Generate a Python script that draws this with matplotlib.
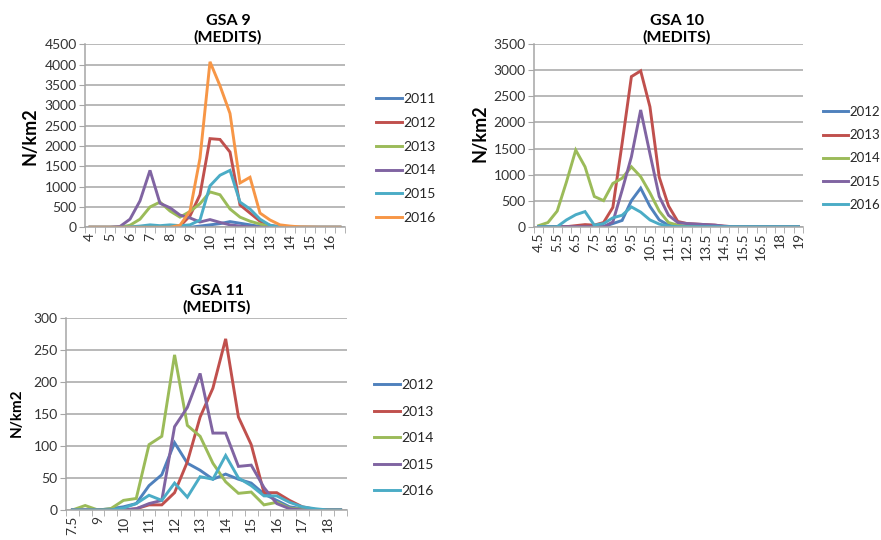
import matplotlib.pyplot as plt

plt.rcParams['font.family'] = ['Lato', 'DejaVu Sans']

# Excel 2010 palette
COLORS = {'2011': '#4F81BD', '2012': '#C0504D', '2013': '#9BBB59',
          '2014': '#8064A2', '2015': '#4BACC6', '2016': '#F79646'}
COLORS_B = {'2012': '#4F81BD', '2013': '#C0504D', '2014': '#9BBB59',
            '2015': '#8064A2', '2016': '#4BACC6'}

# ---- GSA 9 (length classes, cm) ----
gsa9_len = [4, 4.5, 5, 5.5, 6, 6.5, 7, 7.5, 8, 8.5, 9, 9.5, 10, 10.5, 11, 11.5,
            12, 12.5, 13, 13.5, 14, 14.5, 15, 15.5, 16, 16.5]
gsa9_2011 = [0, 0, 0, 0, 0, 0, 0, 0, 0, 0, 0, 30, 60, 90, 140, 100, 60, 20, 0, 0, 0, 0, 0, 0, 0, 0]
gsa9_2012 = [0, 0, 0, 0, 0, 0, 0, 0, 0, 30, 280, 800, 2180, 2160, 1850, 550, 350, 150, 50, 10, 0, 0, 0, 0, 0, 0]
gsa9_2013 = [0, 0, 0, 0, 50, 200, 500, 620, 400, 250, 390, 580, 870, 800, 450, 250, 150, 80, 20, 0, 0, 0, 0, 0, 0, 0]
gsa9_2014 = [0, 0, 0, 20, 200, 650, 1400, 590, 480, 300, 230, 130, 190, 120, 60, 30, 10, 0, 0, 0, 0, 0, 0, 0, 0, 0]
gsa9_2015 = [0, 0, 0, 0, 10, 30, 60, 40, 60, 40, 60, 180, 1020, 1280, 1400, 620, 450, 200, 50, 10, 0, 0, 0, 0, 0, 0]
gsa9_2016 = [0, 0, 0, 0, 0, 0, 0, 0, 0, 50, 400, 1700, 4070, 3480, 2800, 1090, 1230, 350, 180, 60, 30, 10, 5, 0, 0, 0]

# ---- GSA 10 ----
gsa10_len = [4.5, 5, 5.5, 6, 6.5, 7, 7.5, 8, 8.5, 9, 9.5, 10, 10.5, 11, 11.5, 12,
             12.5, 13, 13.5, 14, 14.5, 15, 15.5, 16, 16.5, 17, 18, 18.5, 19]
gsa10_2012 = [0, 0, 0, 0, 0, 0, 0, 0, 60, 120, 500, 740, 390, 130, 30, 0, 0, 0, 0, 0, 0, 0, 0, 0, 0, 0, 0, 0, 0]
gsa10_2013 = [0, 0, 0, 0, 20, 40, 30, 80, 370, 1600, 2880, 2990, 2300, 950, 400, 100, 60, 50, 40, 30, 10, 0, 0, 0, 0, 0, 0, 0, 0]
gsa10_2014 = [20, 80, 300, 860, 1470, 1150, 580, 500, 830, 930, 1150, 960, 650, 300, 80, 30, 10, 0, 0, 0, 0, 0, 0, 0, 0, 0, 0, 0, 0]
gsa10_2015 = [0, 0, 0, 0, 0, 0, 0, 0, 90, 700, 1340, 2240, 1400, 580, 220, 80, 60, 50, 40, 30, 10, 0, 0, 0, 0, 0, 0, 0, 0]
gsa10_2016 = [0, 0, 0, 130, 230, 290, 30, 60, 170, 220, 380, 280, 130, 50, 10, 0, 0, 0, 0, 0, 0, 0, 0, 0, 0, 0, 0, 0, 0]

# ---- GSA 11 ----
gsa11_len = [7.5, 8, 9, 9.5, 10, 10.5, 11, 11.5, 12, 12.5, 13, 13.5, 14, 14.5,
             15, 15.5, 16, 16.5, 17, 17.5, 18, 18.5]
gsa11_2012 = [0, 0, 0, 2, 5, 10, 38, 55, 105, 73, 62, 48, 56, 48, 42, 25, 15, 5, 2, 0, 0, 0]
gsa11_2013 = [0, 0, 0, 0, 0, 2, 8, 8, 27, 75, 145, 190, 267, 145, 102, 27, 27, 15, 5, 1, 0, 0]
gsa11_2014 = [0, 7, 0, 2, 15, 18, 102, 115, 242, 132, 115, 73, 44, 26, 28, 8, 12, 3, 1, 0, 0, 0]
gsa11_2015 = [0, 0, 0, 0, 0, 2, 10, 15, 130, 160, 213, 120, 120, 68, 70, 35, 10, 2, 0, 0, 0, 0]
gsa11_2016 = [0, 0, 0, 0, 3, 10, 23, 15, 42, 20, 52, 48, 85, 50, 38, 22, 22, 12, 5, 2, 0, 0]


def fmt(v):
    return str(int(v)) if float(v).is_integer() else str(v)


def panel(fig, rect, cats, series, colors, ymax, ystep, title, title_xy,
          ylab_xy, ylab_size, leg_xy, leg_space, leg_size=10):
    ax = fig.add_axes(rect)
    x = list(range(len(cats)))
    for name, vals in series:
        ax.plot(x, vals, color=colors[name], lw=2.1, label=name,
                solid_joinstyle='miter')
    ax.set_xlim(-0.5, len(cats) - 0.5)
    ax.set_ylim(0, ymax)
    ax.set_yticks(range(0, ymax + 1, ystep))
    ax.yaxis.grid(True, color='#a6a6a6', lw=1.1)
    ax.set_axisbelow(True)
    ax.set_xticks(x[::2])
    ax.set_xticklabels([fmt(c) for c in cats[::2]], rotation=90)
    ax.set_xticks([i - 0.5 for i in range(len(cats) + 1)], minor=True)
    ax.tick_params(axis='x', which='major', length=0, pad=4,
                   labelsize=10, colors='#333333')
    ax.tick_params(axis='x', which='minor', length=4, color='#a6a6a6')
    ax.tick_params(axis='y', length=4, color='#a6a6a6', labelsize=10,
                   colors='#333333', pad=2)
    for s in ('top', 'right'):
        ax.spines[s].set_visible(False)
    for s in ('left', 'bottom'):
        ax.spines[s].set_color('#a6a6a6')
        ax.spines[s].set_linewidth(1.1)
    W, H = 881, 540
    fig.text(title_xy[0] / W, 1 - title_xy[1] / H, title, ha='center',
             va='center', fontsize=11.5, fontweight='bold', linespacing=1.2)
    fig.text(ylab_xy[0] / W, 1 - ylab_xy[1] / H, 'N/km2', rotation=90,
             ha='center', va='center', fontsize=ylab_size, fontweight='bold')
    leg = ax.legend(loc='upper left', bbox_to_anchor=(leg_xy[0] / W, 1 - leg_xy[1] / H),
                    bbox_transform=fig.transFigure, frameon=False,
                    handlelength=1.9, handletextpad=0.1, labelspacing=leg_space,
                    fontsize=leg_size, borderaxespad=0, borderpad=0)
    for t in leg.get_texts():
        t.set_color('#262626')
    return ax


fig = plt.figure(figsize=(8.81, 5.40), dpi=100)

panel(fig, [85 / 881, 1 - 227.3 / 540, 260 / 881, 183 / 540], gsa9_len,
      [('2011', gsa9_2011), ('2012', gsa9_2012), ('2013', gsa9_2013),
       ('2014', gsa9_2014), ('2015', gsa9_2015), ('2016', gsa9_2016)],
      COLORS, 4500, 500, 'GSA 9\n(MEDITS)', (228, 29), (30, 136), 13,
      (376, 93), 0.85)

panel(fig, [534 / 881, 1 - 226.7 / 540, 269 / 881, 182.4 / 540], gsa10_len,
      [('2012', gsa10_2012), ('2013', gsa10_2013), ('2014', gsa10_2014),
       ('2015', gsa10_2015), ('2016', gsa10_2016)],
      COLORS_B, 3500, 500, 'GSA 10\n(MEDITS)', (677, 29), (480, 133), 13,
      (823, 106), 0.85, leg_size=9.5)

panel(fig, [66 / 881, 1 - 510 / 540, 281 / 881, 192.3 / 540], gsa11_len,
      [('2012', gsa11_2012), ('2013', gsa11_2013), ('2014', gsa11_2014),
       ('2015', gsa11_2015), ('2016', gsa11_2016)],
      COLORS_B, 300, 50, 'GSA 11\n(MEDITS)', (217, 299), (17, 413), 11,
      (374, 379), 1.05)

fig.savefig('out.png', dpi=100)
